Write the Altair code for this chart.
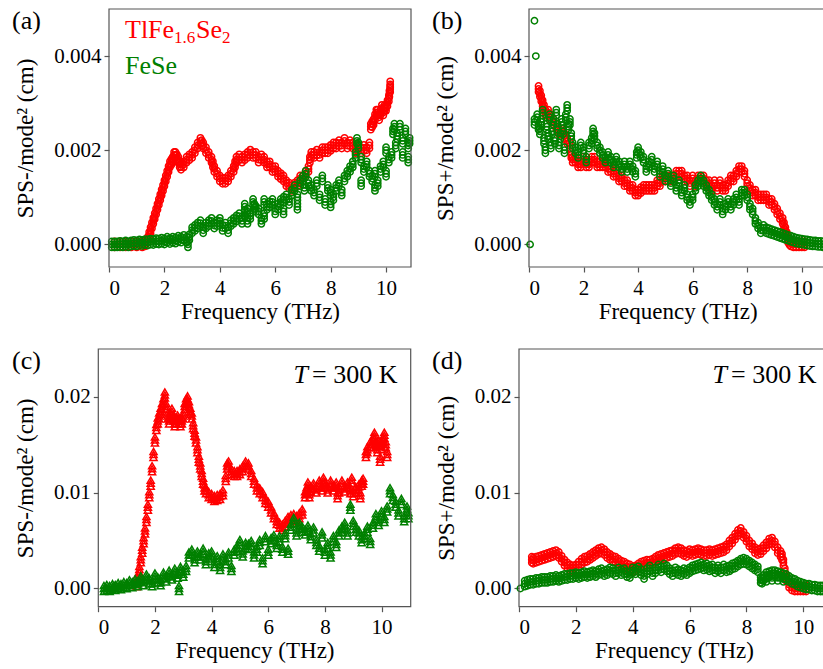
import altair as alt
import pandas as pd

RED = "#ff0000"
GREEN = "#008000"
FONT = "Liberation Serif"
FRAME = "#555555"

X_TICKS = [0, 2, 4, 6, 8, 10]
Y_TICKS_TOP = [0.0, 0.002, 0.004]
Y_TICKS_BOT = [0.0, 0.01, 0.02]

# (a) SPS- per mode^2, TlFe1.6Se2
A_RED = [(0.2,0.0),(0.4,0.0),(0.6,0.0),(0.8,0.0),(1.0,0.0),(1.2,0.0),(1.3,0.00002),
 (1.4,0.0001),(1.45,0.0002),(1.5,0.0003),(1.55,0.0004),(1.6,0.0005),(1.65,0.0006),(1.7,0.0007),
 (1.75,0.0008),(1.8,0.0009),(1.85,0.001),(1.9,0.0011),(1.95,0.0012),(2.0,0.0013),(2.05,0.0014),
 (2.1,0.0015),(2.15,0.0016),(2.2,0.0017),(2.25,0.00175),(2.3,0.0018),(2.35,0.0019),(2.4,0.0019),
 (2.45,0.00185),(2.5,0.0018),(2.55,0.0017),(2.6,0.00165),(2.7,0.0017),(2.8,0.0018),(2.9,0.00185),
 (3.0,0.0019),(3.1,0.002),(3.2,0.0021),(3.3,0.0022),(3.35,0.00215),(3.4,0.0021),(3.5,0.002),
 (3.6,0.0019),(3.7,0.0018),(3.75,0.0017),(3.8,0.0016),(3.9,0.0015),(4.0,0.0014),(4.1,0.00135),
 (4.2,0.00135),(4.3,0.0014),(4.4,0.0015),(4.5,0.0016),(4.55,0.0017),(4.6,0.0018),(4.7,0.00185),
 (4.8,0.0018),(4.9,0.00185),(5.0,0.0019),(5.1,0.00195),(5.2,0.0019),(5.3,0.0019),(5.4,0.0018),
 (5.5,0.00185),(5.6,0.0018),(5.7,0.0017),(5.8,0.0017),(5.9,0.0016),(6.0,0.0016),(6.1,0.0015),
 (6.2,0.00145),(6.3,0.0014),(6.4,0.0013),(6.5,0.00125),(6.6,0.0012),(6.7,0.00125),(6.8,0.0013),
 (6.9,0.0014),(7.0,0.0014),(7.1,0.0015),(7.2,0.0016),(7.25,0.0018),(7.3,0.0019),(7.4,0.0019),
 (7.5,0.00195),(7.6,0.0019),(7.7,0.002),(7.8,0.002),(7.9,0.002),(8.0,0.00205),(8.1,0.0021),
 (8.2,0.0021),(8.3,0.00215),(8.4,0.0021),(8.5,0.0022),(8.6,0.0021),(8.7,0.00215),(8.8,0.0021),
 (8.9,0.002),(9.0,0.00205),(9.1,0.002),(9.2,0.00205),(9.3,0.002),(9.4,0.0021),
 (9.45,0.0025),(9.5,0.00255),(9.55,0.0026),(9.6,0.0027),(9.65,0.0028),(9.7,0.0028),(9.75,0.0027),
 (9.8,0.0028),(9.85,0.0029),(9.9,0.0028),(9.95,0.0029),(10.0,0.0029),(10.05,0.003),(10.1,0.0031),
 (10.12,0.0032),(10.15,0.0033),(10.15,0.0034)]

# (a) SPS- per mode^2, FeSe
A_GREEN = [(0.1,0.0),(0.2,0.0),(0.3,0.0),(0.4,0.00001),(0.5,0.0),(0.6,0.00002),(0.7,0.0),(0.8,0.00002),
 (0.9,0.00003),(1.0,0.00002),(1.1,0.00004),(1.2,0.00003),(1.3,0.00005),(1.4,0.00004),(1.5,0.00006),
 (1.6,0.00005),(1.7,0.00007),(1.8,0.00006),(1.9,0.00008),(2.0,0.00006),(2.1,0.0001),(2.2,0.00007),
 (2.3,0.0001),(2.4,0.00008),(2.5,0.00012),(2.6,0.0001),(2.7,0.00014),(2.8,0.0001),(2.85,0.0),
 (2.9,0.00015),(3.0,0.0003),(3.1,0.00035),(3.2,0.0004),(3.3,0.00045),(3.4,0.0003),(3.5,0.0004),
 (3.6,0.00045),(3.7,0.0005),(3.8,0.0004),(3.9,0.00045),(4.0,0.0005),(4.1,0.00035),(4.2,0.0004),
 (4.3,0.0003),(4.4,0.00045),(4.5,0.0005),(4.6,0.00055),(4.7,0.0006),(4.8,0.0005),(4.9,0.00065),
 (4.9,0.0008),(5.0,0.0007),(5.0,0.0005),(5.1,0.0006),(5.2,0.0009),(5.25,0.0008),(5.3,0.00075),
 (5.4,0.0007),(5.5,0.0005),(5.6,0.0006),(5.6,0.0009),(5.7,0.0008),(5.8,0.00085),(5.9,0.0009),
 (6.0,0.0007),(6.1,0.0008),(6.2,0.0009),(6.3,0.00095),(6.3,0.0007),(6.4,0.001),(6.5,0.0009),
 (6.6,0.0011),(6.7,0.0012),(6.8,0.001),(6.8,0.0008),(6.9,0.0013),(7.0,0.0014),(7.05,0.0012),
 (7.1,0.0015),(7.2,0.0013),(7.3,0.0012),(7.4,0.0011),(7.5,0.0013),(7.6,0.001),(7.7,0.0014),
 (7.8,0.0009),(7.9,0.0012),(8.0,0.00085),(8.0,0.0011),(8.1,0.001),(8.2,0.0012),(8.3,0.0013),
 (8.4,0.0011),(8.5,0.0014),(8.6,0.0015),(8.7,0.0016),(8.8,0.0017),(8.9,0.0019),(8.95,0.0022),
 (9.0,0.0021),(9.1,0.0018),(9.1,0.0013),(9.2,0.0016),(9.3,0.0017),(9.4,0.0015),(9.5,0.0014),
 (9.6,0.0012),(9.6,0.0015),(9.7,0.0013),(9.8,0.0016),(9.9,0.0017),(10.0,0.0015),(10.0,0.002),
 (10.1,0.0018),(10.2,0.0019),(10.25,0.0024),(10.3,0.0025),(10.35,0.0021),(10.4,0.0023),
 (10.5,0.0025),(10.6,0.0019),(10.6,0.0022),(10.7,0.0024),(10.8,0.0021),(10.8,0.0018),(10.85,0.0022)]

# (b) SPS+ per mode^2, TlFe1.6Se2
B_RED = [(0.35,0.0033),(0.4,0.0032),(0.45,0.0031),(0.5,0.003),(0.55,0.0029),(0.6,0.0028),(0.7,0.0028),
 (0.8,0.0027),(0.9,0.0026),(1.0,0.0025),(1.1,0.0024),(1.2,0.0024),(1.3,0.0023),(1.4,0.0022),
 (1.5,0.0021),(1.55,0.0019),(1.6,0.0018),(1.7,0.0018),(1.8,0.0017),(1.9,0.0017),(2.0,0.0018),
 (2.1,0.0017),(2.2,0.0017),(2.3,0.0018),(2.4,0.0018),(2.5,0.0017),(2.6,0.0017),(2.7,0.0017),
 (2.8,0.0017),(2.9,0.0016),(3.0,0.0016),(3.1,0.0015),(3.2,0.0015),(3.3,0.0014),(3.4,0.0014),
 (3.5,0.0013),(3.6,0.0013),(3.7,0.0012),(3.8,0.0012),(3.9,0.0011),(4.0,0.0011),(4.1,0.00115),
 (4.2,0.0012),(4.3,0.0012),(4.4,0.0012),(4.5,0.0012),(4.6,0.0012),(4.7,0.0013),(4.8,0.0013),
 (4.9,0.0014),(5.0,0.0014),(5.1,0.0014),(5.2,0.0014),(5.3,0.0014),(5.4,0.0015),(5.5,0.0015),
 (5.6,0.0015),(5.7,0.0014),(5.8,0.0014),(5.9,0.0013),(6.0,0.0014),(6.1,0.0013),(6.2,0.0014),
 (6.3,0.0014),(6.4,0.0014),(6.5,0.0013),(6.6,0.0013),(6.7,0.0012),(6.8,0.0013),(6.9,0.0012),
 (7.0,0.0013),(7.1,0.0012),(7.2,0.0012),(7.3,0.0013),(7.4,0.0014),(7.5,0.0014),(7.6,0.0015),
 (7.7,0.0016),(7.8,0.0016),(7.9,0.0015),(8.0,0.0013),(8.1,0.0012),(8.2,0.0011),(8.3,0.0011),
 (8.4,0.001),(8.5,0.001),(8.6,0.001),(8.7,0.001),(8.8,0.0009),(8.9,0.0009),(9.0,0.0008),
 (9.1,0.0007),(9.2,0.0006),(9.3,0.0005),(9.35,0.0004),(9.4,0.0003),(9.45,0.0002),(9.5,0.0001),
 (9.55,0.00005),(9.6,0.00002),(9.7,0.0),(9.8,0.0),(9.9,0.0),(10.0,0.0),(10.1,0.0)]

# (b) SPS+ per mode^2, FeSe (dense part)
B_GREEN = [(0.2,0.0026),(0.3,0.0027),(0.35,0.0025),(0.4,0.0024),
 (0.45,0.0026),(0.5,0.0028),(0.55,0.0022),(0.6,0.002),(0.65,0.0025),(0.7,0.0023),(0.75,0.0027),
 (0.8,0.0021),(0.85,0.0024),(0.9,0.0026),(0.95,0.0022),(1.0,0.0028),(1.05,0.0025),(1.1,0.0021),
 (1.15,0.0023),(1.2,0.0026),(1.25,0.0024),(1.3,0.002),(1.35,0.0027),(1.4,0.0029),(1.45,0.0025),
 (1.5,0.0026),(1.55,0.0023),(1.6,0.0021),(1.7,0.002),(1.8,0.0019),(1.9,0.0021),(2.0,0.002),
 (2.1,0.0018),(2.2,0.0021),(2.3,0.0022),(2.35,0.0024),(2.4,0.0023),(2.5,0.0021),(2.6,0.002),
 (2.7,0.0019),(2.8,0.0018),(2.9,0.0019),(3.0,0.0018),(3.1,0.0017),(3.2,0.0018),(3.3,0.0017),
 (3.4,0.0016),(3.5,0.0017),(3.6,0.0016),(3.7,0.0017),(3.8,0.0016),(3.9,0.0015),(3.95,0.0019),
 (4.0,0.002),(4.1,0.0019),(4.2,0.0018),(4.3,0.0016),(4.4,0.0017),(4.5,0.0018),(4.6,0.0016),
 (4.7,0.0017),(4.8,0.0015),(4.9,0.0016),(5.0,0.0014),(5.1,0.0015),(5.2,0.0013),(5.3,0.0014),
 (5.4,0.0012),(5.5,0.0013),(5.6,0.0011),(5.7,0.0012),(5.8,0.001),(5.9,0.0009),(6.0,0.001),
 (6.1,0.0012),(6.2,0.0013),(6.3,0.0014),(6.4,0.0013),(6.5,0.0012),(6.6,0.0011),(6.7,0.001),
 (6.8,0.0009),(6.9,0.0008),(7.0,0.0009),(7.1,0.0007),(7.2,0.0008),(7.3,0.0009),(7.4,0.0008),
 (7.5,0.0009),(7.6,0.001),(7.7,0.0009),(7.8,0.0011),(7.9,0.0011),(8.0,0.001),(8.1,0.0008),
 (8.2,0.0007),(8.3,0.0005),(8.4,0.0004),(8.5,0.0003),(8.6,0.00035),(8.7,0.0003),(8.8,0.00028),
 (8.9,0.00026),(9.0,0.00024),(9.1,0.00022),(9.2,0.0002),(9.3,0.00018),(9.4,0.00016),(9.5,0.00014),
 (9.6,0.00012),(9.7,0.0001),(9.8,0.00008),(9.9,0.00007),(10.0,0.00006),(10.1,0.00005),
 (10.2,0.00004),(10.3,0.00003),(10.4,0.00002),(10.5,0.00002),(10.6,0.00001),(10.7,0.00001),
 (10.8,0.0),(10.9,0.0)]
# (b) SPS+ per mode^2, FeSe (isolated low-frequency points)
B_GREEN_ISOLATED = [(0.04,0.0),(0.2,0.00475),(0.25,0.004)]

# (c) SPS- per mode^2 at 300 K, TlFe1.6Se2
C_RED = [(1.35,0.0005),(1.4,0.0012),(1.45,0.002),(1.5,0.003),(1.55,0.004),(1.6,0.005),(1.65,0.006),
 (1.7,0.0072),(1.75,0.0085),(1.8,0.0098),(1.85,0.011),(1.9,0.0125),(1.95,0.014),(2.0,0.0155),
 (2.05,0.0168),(2.1,0.0175),(2.15,0.018),(2.2,0.0185),(2.25,0.019),(2.3,0.0195),(2.35,0.0202),
 (2.4,0.019),(2.45,0.018),(2.5,0.0175),(2.55,0.018),(2.6,0.0185),(2.65,0.0178),(2.7,0.0172),
 (2.75,0.0175),(2.8,0.0178),(2.85,0.0175),(2.9,0.0172),(2.95,0.0175),(3.0,0.018),(3.05,0.019),
 (3.1,0.0195),(3.15,0.0198),(3.2,0.0192),(3.25,0.0185),(3.3,0.018),(3.35,0.017),(3.4,0.0162),
 (3.45,0.0155),(3.5,0.0145),(3.55,0.0135),(3.6,0.0128),(3.65,0.012),(3.7,0.0112),(3.75,0.0105),
 (3.8,0.0102),(3.9,0.0098),(4.0,0.0096),(4.1,0.0094),(4.2,0.0095),(4.3,0.0096),(4.4,0.01),
 (4.5,0.0115),(4.55,0.0128),(4.6,0.013),(4.7,0.0122),(4.8,0.012),(4.9,0.012),(5.0,0.0122),
 (5.1,0.0125),(5.2,0.013),(5.3,0.0128),(5.4,0.012),(5.5,0.0112),(5.6,0.0105),(5.7,0.0102),
 (5.8,0.0098),(5.9,0.0092),(6.0,0.0088),(6.1,0.0082),(6.2,0.0076),(6.3,0.007),(6.4,0.0066),
 (6.5,0.0064),(6.6,0.0068),(6.7,0.0072),(6.8,0.0074),(6.9,0.0075),(7.0,0.0073),(7.1,0.0076),
 (7.2,0.008),(7.3,0.0098),(7.35,0.0102),(7.4,0.0108),(7.45,0.0098),(7.5,0.0104),(7.6,0.0107),
 (7.7,0.0103),(7.8,0.011),(7.9,0.0105),(7.95,0.0113),(8.0,0.0108),(8.1,0.0103),(8.2,0.011),
 (8.3,0.0105),(8.4,0.0108),(8.45,0.0097),(8.5,0.0103),(8.6,0.011),(8.7,0.0104),(8.8,0.0108),
 (8.9,0.0102),(8.95,0.0113),(9.0,0.0099),(9.1,0.0103),(9.2,0.0106),(9.25,0.0097),(9.3,0.011),
 (9.35,0.0112),(9.45,0.014),(9.5,0.0145),(9.6,0.015),(9.7,0.0155),(9.75,0.016),(9.8,0.015),
 (9.85,0.0145),(9.9,0.0152),(9.95,0.0135),(10.0,0.0148),(10.05,0.0155),(10.1,0.016),
 (10.15,0.015),(10.2,0.014)]

# (c) SPS- per mode^2 at 300 K, FeSe
C_GREEN = [(0.2,0.0),(0.3,0.0001),(0.4,0.0),(0.5,0.0002),(0.6,0.0001),(0.7,0.0003),(0.8,0.0002),
 (0.9,0.0004),(1.0,0.0003),(1.1,0.0006),(1.2,0.0004),(1.3,0.0007),(1.4,0.0005),(1.5,0.001),
 (1.6,0.0006),(1.7,0.0012),(1.8,0.0008),(1.9,0.0005),(2.0,0.0013),(2.1,0.0009),(2.2,0.0006),
 (2.3,0.0014),(2.4,0.001),(2.5,0.0016),(2.6,0.0012),(2.7,0.0018),(2.8,0.0014),(2.85,0.0),
 (2.9,0.002),(3.0,0.0015),(3.1,0.0021),(3.2,0.0035),(3.3,0.0038),(3.4,0.003),(3.5,0.0036),
 (3.6,0.0033),(3.7,0.0039),(3.8,0.0028),(3.9,0.0034),(4.0,0.0036),(4.1,0.0025),(4.2,0.0031),
 (4.3,0.0022),(4.4,0.0033),(4.5,0.0028),(4.6,0.0035),(4.7,0.0021),(4.8,0.0038),(4.9,0.0042),
 (5.0,0.0048),(5.1,0.0036),(5.2,0.0045),(5.3,0.0044),(5.4,0.0047),(5.5,0.0035),(5.6,0.0041),
 (5.7,0.0048),(5.8,0.0029),(5.9,0.0052),(6.0,0.0038),(6.1,0.005),(6.2,0.0053),(6.3,0.0045),
 (6.4,0.0052),(6.5,0.0041),(6.6,0.0055),(6.7,0.0039),(6.8,0.0064),(6.9,0.0071),(7.0,0.0058),
 (7.1,0.0066),(7.2,0.0062),(7.3,0.0059),(7.4,0.0063),(7.5,0.0054),(7.6,0.0061),(7.7,0.0048),
 (7.8,0.0042),(7.9,0.0056),(8.0,0.0038),(8.1,0.0045),(8.2,0.0035),(8.3,0.0052),(8.4,0.0046),
 (8.5,0.0058),(8.6,0.0062),(8.7,0.0066),(8.8,0.0058),(8.9,0.0085),(9.0,0.0068),(9.1,0.0062),
 (9.2,0.0058),(9.3,0.0051),(9.4,0.0055),(9.5,0.0062),(9.6,0.0049),(9.7,0.0066),(9.8,0.0075),
 (9.9,0.0069),(10.0,0.0078),(10.1,0.0072),(10.2,0.0083),(10.3,0.0102),(10.4,0.0095),
 (10.5,0.0088),(10.6,0.0079),(10.7,0.0091),(10.8,0.0073),(10.9,0.0083),(10.95,0.0076)]

# (d) SPS+ per mode^2 at 300 K, TlFe1.6Se2
D_RED = [(0.45,0.003),(0.5,0.0029),(0.6,0.003),(0.7,0.0031),(0.8,0.0032),(0.9,0.0033),(1.0,0.0034),
 (1.1,0.0035),(1.2,0.0036),(1.3,0.0037),(1.4,0.0035),(1.5,0.0031),(1.6,0.0027),(1.7,0.0024),
 (1.8,0.0022),(1.9,0.0021),(2.0,0.0022),(2.1,0.0025),(2.2,0.0028),(2.3,0.003),(2.4,0.0031),
 (2.5,0.0033),(2.6,0.0035),(2.7,0.0037),(2.8,0.0039),(2.9,0.004),(3.0,0.0038),(3.1,0.0035),
 (3.2,0.0033),(3.3,0.0031),(3.4,0.003),(3.5,0.0028),(3.6,0.0026),(3.7,0.0025),(3.8,0.0023),
 (3.9,0.0022),(4.0,0.002),(4.1,0.0021),(4.2,0.0023),(4.3,0.0025),(4.4,0.0026),(4.5,0.0027),
 (4.6,0.0027),(4.7,0.0028),(4.8,0.003),(4.9,0.0032),(5.0,0.0033),(5.1,0.0034),(5.2,0.0035),
 (5.3,0.0036),(5.4,0.0037),(5.5,0.0039),(5.6,0.004),(5.7,0.0039),(5.8,0.0037),(5.9,0.0036),
 (6.0,0.0038),(6.1,0.0037),(6.2,0.0038),(6.3,0.0039),(6.4,0.0038),(6.5,0.0037),(6.6,0.0037),
 (6.7,0.0038),(6.8,0.0037),(6.9,0.0038),(7.0,0.0039),(7.1,0.004),(7.2,0.0041),(7.3,0.0043),
 (7.4,0.0047),(7.5,0.005),(7.6,0.0054),(7.7,0.0058),(7.8,0.006),(7.9,0.0056),(8.0,0.0052),
 (8.1,0.0047),(8.2,0.0044),(8.3,0.004),(8.4,0.0038),(8.5,0.0039),(8.6,0.0042),(8.7,0.0045),
 (8.8,0.0049),(8.9,0.005),(9.0,0.0046),(9.1,0.004),(9.2,0.0036),(9.25,0.0033),(9.3,0.0027),
 (9.35,0.0018),(9.4,0.0011),(9.5,0.0004),(9.6,0.0001),(9.7,0.0),(9.8,0.0),(9.9,0.0),
 (10.0,0.0),(10.1,0.0)]

# (d) SPS+ per mode^2 at 300 K, FeSe
D_GREEN = [(0.2,0.0005),(0.3,0.0006),(0.4,0.0007),(0.5,0.0007),(0.6,0.0008),(0.7,0.0008),
 (0.8,0.0009),(0.9,0.0009),(1.0,0.0009),(1.1,0.001),(1.2,0.001),(1.3,0.0011),(1.4,0.001),
 (1.5,0.0011),(1.6,0.0012),(1.7,0.0012),(1.8,0.0013),(1.9,0.0013),(2.0,0.0014),(2.1,0.0013),
 (2.2,0.0014),(2.3,0.0015),(2.4,0.0014),(2.5,0.0015),(2.6,0.0016),(2.7,0.0015),(2.8,0.0017),
 (2.9,0.0018),(3.0,0.0016),(3.1,0.0017),(3.2,0.0019),(3.3,0.0018),(3.4,0.0016),(3.5,0.0019),
 (3.6,0.0017),(3.7,0.0018),(3.8,0.0015),(3.9,0.0014),(4.0,0.0019),(4.1,0.0018),(4.2,0.002),
 (4.3,0.0017),(4.4,0.0013),(4.5,0.0018),(4.6,0.0021),(4.7,0.0016),(4.8,0.0019),(4.9,0.0022),
 (5.0,0.002),(5.1,0.0023),(5.2,0.0021),(5.3,0.0018),(5.4,0.0016),(5.5,0.0019),(5.6,0.0017),
 (5.7,0.0016),(5.8,0.0018),(5.9,0.0017),(6.0,0.0019),(6.1,0.0021),(6.2,0.0022),(6.3,0.0023),
 (6.4,0.0024),(6.5,0.0022),(6.6,0.0023),(6.7,0.0021),(6.8,0.0022),(6.9,0.0019),(7.0,0.0021),
 (7.1,0.0019),(7.2,0.0022),(7.3,0.002),(7.4,0.0021),(7.5,0.0023),(7.6,0.0024),(7.7,0.0026),
 (7.8,0.0028),(7.9,0.0029),(8.0,0.0028),(8.1,0.0026),(8.2,0.0024),(8.3,0.0022),(8.4,0.002),
 (8.5,0.0009),(8.55,0.0008),(8.6,0.0011),(8.7,0.0014),(8.7,0.001),(8.8,0.0015),(8.9,0.0016),
 (8.9,0.0011),(9.0,0.0016),(9.1,0.0015),(9.1,0.0011),(9.2,0.0014),(9.3,0.0013),(9.3,0.001),
 (9.4,0.0012),(9.5,0.001),(9.6,0.0008),(9.7,0.0007),(9.8,0.0005),(9.9,0.0004),(10.0,0.0003),
 (10.1,0.0002),(10.2,0.0002),(10.3,0.0001),(10.4,0.0001),(10.5,0.0),(10.6,0.0),(10.7,0.0)]
# (d) SPS+ per mode^2 at 300 K, FeSe (isolated first point)
D_GREEN_ISOLATED = [(0.05,0.0)]

W, H = 823, 669
# pixel spreads used to draw each dense series as a thick overplotted band (style only)
BAND_OFFSETS = [-3.0, 3.0, 0.0]

AXIS_BASE = dict(
    labelFont=FONT, titleFont=FONT, labelFontSize=21, titleFontSize=23,
    titleFontWeight="normal", labelColor="black", titleColor="black",
    tickColor=FRAME, tickSize=5, tickWidth=1.2, domain=False, grid=False,
)


def text(label, x, y, size=26, color="black", align="left", style="normal", baseline="alphabetic"):
    return alt.Chart(pd.DataFrame({"t": [label]})).mark_text(
        font=FONT, fontSize=size, color=color, align=align, baseline=baseline,
        fontStyle=style,
    ).encode(x=alt.value(x), y=alt.value(y), text="t:N")


def frame_box(x0, x1, y0, y1):
    return alt.Chart(pd.DataFrame({"t": [0]})).mark_rect(
        fillOpacity=0, stroke=FRAME, strokeWidth=1.2,
    ).encode(x=alt.value(x0), x2=alt.value(x1), y=alt.value(y0), y2=alt.value(y1))


def panel(red, green, shape, xmax, xr, yr, ydom, yticks, yfmt, ytitle, isolated=()):
    """xr = (left, right) pixel range, yr = (bottom, top) pixel range of the plot area."""
    size = 40 if shape == "circle" else 50
    groups = [(red, RED, BAND_OFFSETS), (green, GREEN, BAND_OFFSETS)]
    if isolated:
        groups.append((list(isolated), GREEN, [0.0]))
    layers = []
    first = True
    for series, color, offsets in groups:
        df = pd.DataFrame(series, columns=["f", "v"])
        for off in offsets:
            if first:
                xaxis = alt.Axis(values=X_TICKS, title="Frequency (THz)", format="d", orient="bottom",
                                 offset=yr[0] - H, labelPadding=5, titlePadding=2, **AXIS_BASE)
                yaxis = alt.Axis(values=yticks, format=yfmt, title=ytitle, orient="left",
                                 offset=-xr[0], labelPadding=3, titlePadding=16, **AXIS_BASE)
            else:
                xaxis = None
                yaxis = None
            first = False
            layers.append(
                alt.Chart(df).mark_point(
                    shape=shape, filled=False, size=size, strokeWidth=1.5, opacity=1,
                    color=color, yOffset=off,
                ).encode(
                    x=alt.X("f:Q", scale=alt.Scale(domain=[0, xmax], range=list(xr), nice=False,
                                                   zero=False), axis=xaxis),
                    y=alt.Y("v:Q", scale=alt.Scale(domain=ydom, range=list(yr), nice=False,
                                                   zero=False), axis=yaxis),
                )
            )
    return layers


layers = []
layers += panel(A_RED, A_GREEN, "circle", 10.9, (109, 411), (267, 9), [-0.00048, 0.005],
                Y_TICKS_TOP, ".3f", "SPS-/mode² (cm)")
layers += panel(B_RED, B_GREEN, "circle", 10.9, (529, 826.3), (267, 9), [-0.00048, 0.005],
                Y_TICKS_TOP, ".3f", "SPS+/mode² (cm)", B_GREEN_ISOLATED)
layers += panel(C_RED, C_GREEN, "triangle-up", 11.03, (98.3, 410.7), (606.7, 349), [-0.0019, 0.025],
                Y_TICKS_BOT, ".2f", "SPS-/mode² (cm)")
layers += panel(D_RED, D_GREEN, "circle", 10.9, (519, 828.9), (606.7, 349), [-0.0019, 0.025],
                Y_TICKS_BOT, ".2f", "SPS+/mode² (cm)", D_GREEN_ISOLATED)

layers += [
    frame_box(109, 411, 9, 267),
    frame_box(529, 830, 9, 267),
    frame_box(98.3, 410.7, 349, 606.7),
    frame_box(519, 830, 349, 606.7),
    text("(a)", 12, 8, baseline="top"),
    text("(b)", 432, 8, baseline="top"),
    text("(c)", 12, 348, baseline="top"),
    text("(d)", 432, 348, baseline="top"),
    text("TlFe", 125, 38, color=RED),
    text("1.6", 174, 43, size=17, color=RED),
    text("Se", 196, 38, color=RED),
    text("2", 222, 43, size=17, color=RED),
    text("FeSe", 125, 74, color=GREEN),
    text("T", 308, 383, style="italic", align="right"),
    text("= 300 K", 312, 383),
    text("T", 727, 383, style="italic", align="right"),
    text("= 300 K", 731, 383),
]

chart = alt.layer(*layers).resolve_scale(x="independent", y="independent").properties(
    width=W, height=H, autosize=alt.AutoSizeParams(type="none"),
).configure(
    padding=0, background="white",
).configure_view(
    stroke="transparent",
)

chart.save("out.html", embed_options={"renderer": "svg", "actions": False})
